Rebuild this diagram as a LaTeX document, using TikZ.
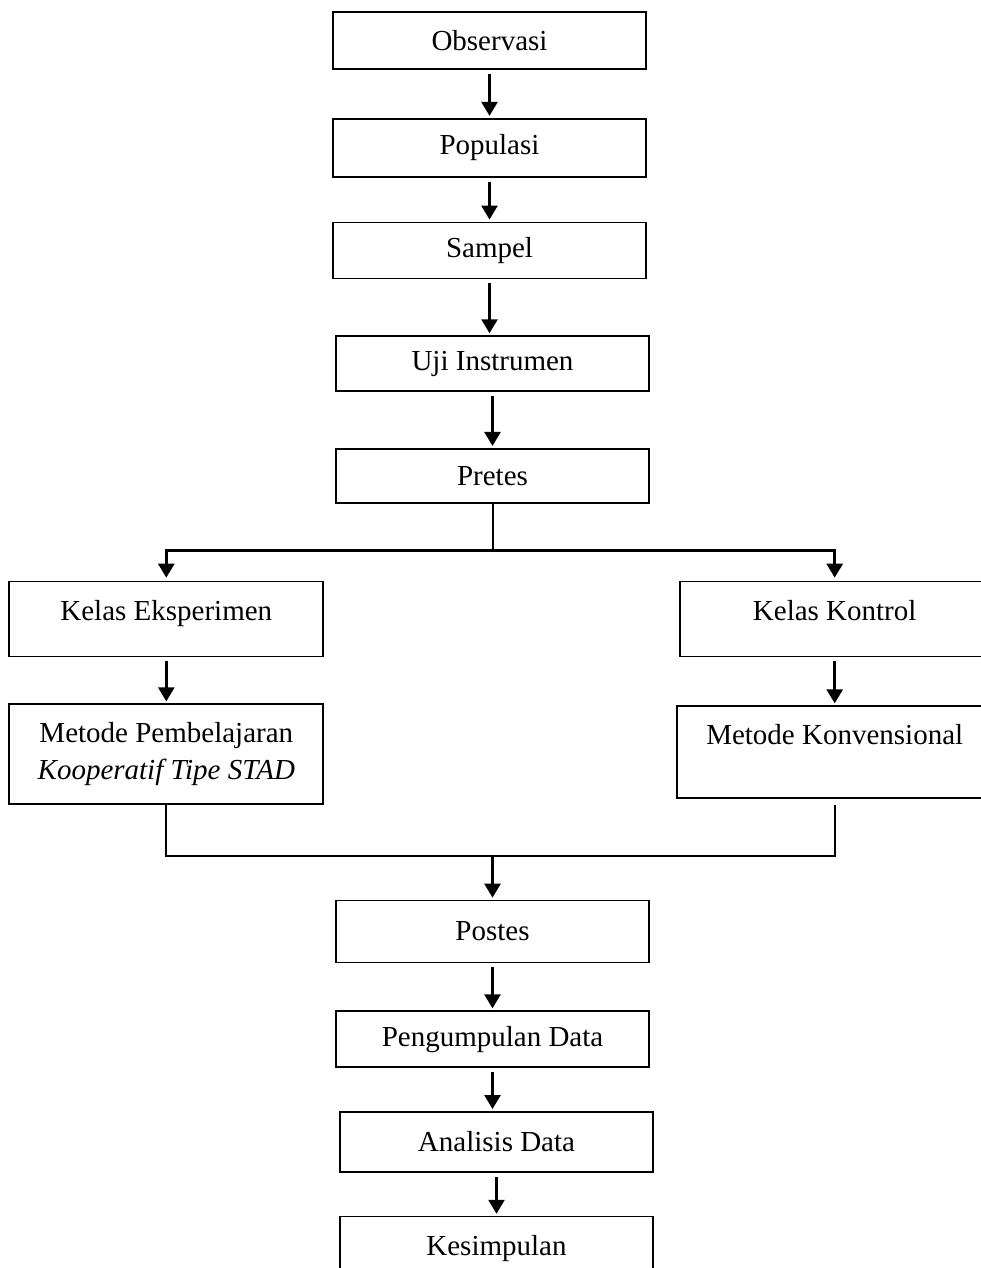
\documentclass[tikz,border=0pt]{standalone}
\usepackage{fontspec}
\setmainfont{Liberation Serif}
\usetikzlibrary{positioning,arrows.meta,calc}
\tikzset{
  flow/.style={-{Triangle[length=7pt,width=8pt]},line width=1.3pt,draw=black,
    shorten <=2pt,shorten >=1pt},
  branch/.style={{Triangle[length=7pt,width=8pt]}-{Triangle[length=7pt,width=8pt]},
    line width=1.5pt,draw=black,shorten <=1.5pt,shorten >=1.5pt},
  stem/.style={line width=1pt,draw=black},
  box/.style={draw=black,line width=0.85pt,minimum width=156.5pt,
    align=center,font=\fontsize{14.5}{18.5}\selectfont},
  topbox/.style={box,text height=10pt}
}

\begin{document}
\begin{tikzpicture}[x=0.5pt,y=-0.5pt]
  \useasboundingbox (0,0) rectangle (980,1268);

  \node[box,minimum height=28.5pt] (obs) at (489.5,40.5) {Observasi};
  \node[box,below=24pt of obs,minimum height=29pt] (pop) {Populasi};
  \node[box,below=22pt of pop,minimum height=28pt] (samp) {Sampel};
  \node[box,below=28pt of samp,xshift=1.5pt,minimum height=27.5pt] (uji) {Uji Instrumen};
  \node[box,below=28pt of uji,minimum height=27pt] (pre) {Pretes};
  \draw[flow] (obs.south) -- (obs.south |- pop.north);
  \draw[flow] (pop.south) -- (pop.south |- samp.north);
  \draw[flow] (samp.south) -- (samp.south |- uji.north);
  \draw[flow] (uji.south) -- (uji.south |- pre.north);

  % two classes
  \node[topbox,below left=38.5pt and 5.5pt of pre,minimum width=157pt,
    minimum height=37.5pt,text depth=9pt] (eks) {Kelas Eksperimen};
  \node[topbox,below right=38.5pt and 14.5pt of pre,minimum width=155pt,
    minimum height=37.5pt,text depth=9pt] (kon) {Kelas Kontrol};
  \node[box,below=23pt of eks,minimum width=157pt,minimum height=50pt] (stad)
    {Metode Pembelajaran\\\textit{Kooperatif Tipe STAD}};
  \node[topbox,below=24pt of kon,minimum width=158pt,minimum height=46pt,
    text depth=17.4pt] (konv) {Metode Konvensional};
  \draw[stem] (pre.south) -- ++(0,-23.5pt) coordinate (split);
  \draw[branch] (eks.north) |- (split) -| (kon.north);
  \draw[flow] (eks.south) -- (stad.north);
  \draw[flow] (kon.south) -- (konv.north);

  % back to one column
  \node[box,below=198pt of pre,minimum height=31pt] (post) {Postes};
  \node[box,below=23.5pt of post,minimum height=28pt] (kumpul) {Pengumpulan Data};
  \node[box,below=21.5pt of kumpul,xshift=2pt,minimum height=30pt] (analisis) {Analisis Data};
  \node[box,below=21.5pt of analisis,minimum height=32pt] (simpul) {Kesimpulan};
  \draw[stem] (stad.south) -- ++(0,-25.5pt) coordinate (merge) -| ([yshift=-3pt]konv.south);
  \draw[flow,shorten <=0pt] (merge -| post.north) -- (post.north);
  \draw[flow] (post.south) -- (post.south |- kumpul.north);
  \draw[flow] (kumpul.south) -- (kumpul.south |- analisis.north);
  \draw[flow] (analisis.south) -- (analisis.south |- simpul.north);
\end{tikzpicture}
\end{document}
